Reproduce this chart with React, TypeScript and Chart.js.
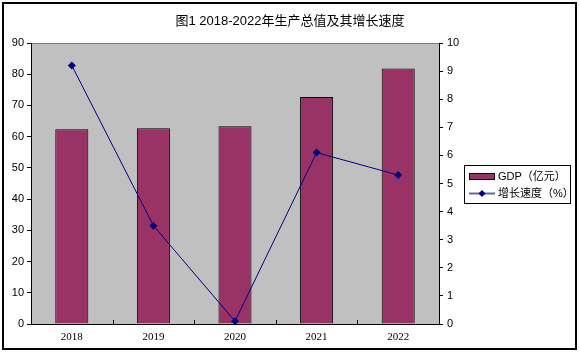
import React, { useEffect, useRef } from "react";
import { Chart, registerables } from "chart.js";

Chart.register(...registerables);

const categories = ["2018", "2019", "2020", "2021", "2022"];
const gdpValues = [62.4, 62.7, 63.3, 72.7, 81.8];
const growthValues = [9.2, 3.5, 0.1, 6.1, 5.3];
const leftTicks = [0, 10, 20, 30, 40, 50, 60, 70, 80, 90];
const rightTicks = [0, 1, 2, 3, 4, 5, 6, 7, 8, 9, 10];
const titleText = "图1 2018-2022年生产总值及其增长速度";
const legendLabels = ["GDP（亿元）", "增长速度（%）"];

const BAR_COLOR = "#993366";
const LINE_COLOR = "#000080";
const SANS = "'Liberation Sans', 'Noto Sans CJK SC', sans-serif";
const CJK = "'Liberation Sans', 'Noto Sans CJK SC', sans-serif";

const decorPlugin = {
  id: "decor",
  beforeDraw(chart: any) {
    const { ctx, chartArea } = chart;
    const { left, top, right, bottom } = chartArea;
    ctx.save();
    ctx.fillStyle = "#ffffff";
    ctx.fillRect(0, 0, chart.width, chart.height);
    ctx.fillStyle = "#C0C0C0";
    ctx.fillRect(left, top, right - left, bottom - top);
    ctx.strokeStyle = "#808080";
    ctx.lineWidth = 1;
    ctx.beginPath();
    ctx.moveTo(left, top + 0.5);
    ctx.lineTo(right, top + 0.5);
    ctx.stroke();
    ctx.restore();
  },
  afterDraw(chart: any) {
    const { ctx, chartArea } = chart;
    const { left, right, bottom } = chartArea;
    ctx.save();
    // inside tick marks on the category axis
    const n = categories.length;
    const w = (right - left) / n;
    ctx.strokeStyle = "#000";
    ctx.lineWidth = 1;
    for (let i = 1; i < n; i++) {
      const x = Math.round(left + i * w) + 0.5;
      ctx.beginPath();
      ctx.moveTo(x, bottom);
      ctx.lineTo(x, bottom - 4);
      ctx.stroke();
    }
    // title
    ctx.fillStyle = "#000";
    ctx.font = "13px " + CJK;
    ctx.textAlign = "center";
    ctx.textBaseline = "middle";
    ctx.fillText(titleText, 290, 21);
    // legend
    ctx.fillStyle = "#fff";
    ctx.fillRect(464, 165, 106, 38);
    ctx.strokeStyle = "#000";
    ctx.lineWidth = 1;
    ctx.strokeRect(464.5, 165.5, 106, 38);
    ctx.fillStyle = BAR_COLOR;
    ctx.fillRect(469.5, 173.5, 25, 6);
    ctx.strokeRect(469.5, 173.5, 25, 6);
    ctx.strokeStyle = "#6666aa";
    ctx.lineWidth = 2;
    ctx.beginPath();
    ctx.moveTo(469, 193.5);
    ctx.lineTo(495, 193.5);
    ctx.stroke();
    ctx.fillStyle = LINE_COLOR;
    ctx.beginPath();
    ctx.moveTo(482, 190);
    ctx.lineTo(485.5, 193.5);
    ctx.lineTo(482, 197);
    ctx.lineTo(478.5, 193.5);
    ctx.closePath();
    ctx.fill();
    ctx.fillStyle = "#000";
    ctx.font = "11px " + CJK;
    ctx.textAlign = "left";
    ctx.fillText(legendLabels[0], 498, 177);
    ctx.fillText(legendLabels[1], 498, 194);
    // outer border
    ctx.strokeStyle = "#000";
    ctx.lineWidth = 2;
    ctx.strokeRect(3, 3, 573, 346);
    ctx.restore();
  },
};

export default function App() {
  const ref = useRef<HTMLCanvasElement | null>(null);
  useEffect(() => {
    if (!ref.current) return;
    const chart = new Chart(ref.current, {
      type: "bar",
      data: {
        labels: categories,
        datasets: [
          {
            type: "line",
            label: legendLabels[1],
            data: growthValues,
            yAxisID: "y2",
            borderColor: LINE_COLOR,
            backgroundColor: LINE_COLOR,
            borderWidth: 1,
            pointStyle: "rectRot",
            pointRadius: 4,
            pointBorderWidth: 0,
            tension: 0,
            order: 0,
          } as any,
          {
            type: "bar",
            label: legendLabels[0],
            data: gdpValues,
            yAxisID: "y",
            backgroundColor: BAR_COLOR,
            borderColor: "#000",
            borderWidth: 1,
            borderSkipped: "bottom",
            barPercentage: 0.405,
            categoryPercentage: 1,
            order: 1,
          } as any,
        ],
      },
      options: {
        responsive: false,
        animation: false,
        devicePixelRatio: 1,
        layout: { padding: { left: 0, right: 0, top: 43, bottom: 0 } },
        plugins: {
          legend: { display: false },
          title: { display: false },
          tooltip: { enabled: false },
        },
        scales: {
          x: {
            offset: true,
            grid: { display: true, drawOnChartArea: false, drawTicks: false, offset: true },
            border: { display: true, color: "#000", width: 1 },
            ticks: {
              color: "#000",
              font: { family: "'Liberation Serif', serif", size: 11 },
              padding: 7,
            },
            afterFit(scale: any) {
              scale.height = 32;
            },
          },
          y: {
            position: "left",
            min: 0,
            max: 90,
            afterBuildTicks(scale: any) {
              scale.ticks = leftTicks.map((v) => ({ value: v }));
            },
            grid: { drawOnChartArea: false, drawTicks: true, tickLength: 4, color: "#000" },
            border: { display: true, color: "#000", width: 1 },
            ticks: {
              color: "#000",
              font: { family: SANS, size: 11 },
              padding: 3,
            },
            afterFit(scale: any) {
              scale.width = 31;
            },
          },
          y2: {
            position: "right",
            min: 0,
            max: 10,
            afterBuildTicks(scale: any) {
              scale.ticks = rightTicks.map((v) => ({ value: v }));
            },
            grid: { drawOnChartArea: false, drawTicks: true, tickLength: 4, color: "#000" },
            border: { display: true, color: "#000", width: 1 },
            ticks: {
              color: "#000",
              font: { family: SANS, size: 11 },
              padding: 4,
            },
            afterFit(scale: any) {
              scale.width = 141;
            },
          },
        },
      },
      plugins: [decorPlugin],
    });
    return () => chart.destroy();
  }, []);
  return (
    <div style={{ position: "absolute", left: 0, top: 0, width: 580, height: 356 }}>
      <canvas ref={ref} width={580} height={356} style={{ display: "block" }} />
    </div>
  );
}
